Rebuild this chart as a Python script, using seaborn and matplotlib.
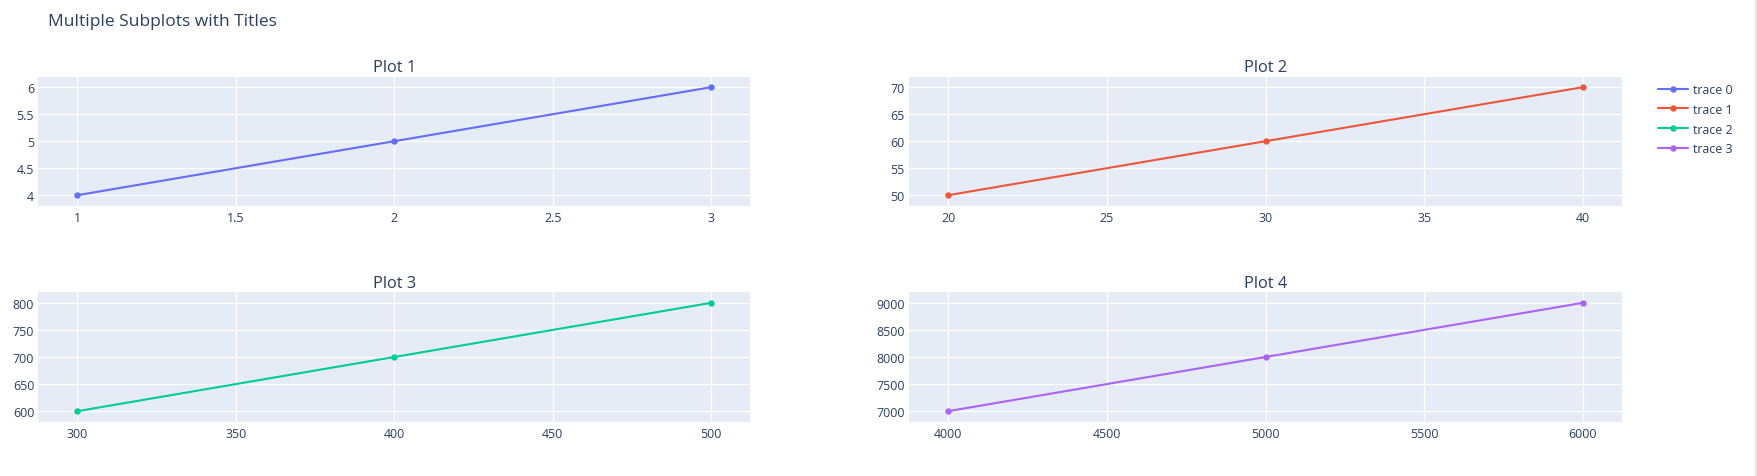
import matplotlib
matplotlib.use("Agg")
import matplotlib.pyplot as plt
import matplotlib.patches as mpatches
import seaborn as sns

# data for the four subplots
x_plot1 = [1, 2, 3]
y_plot1 = [4, 5, 6]
x_plot2 = [20, 30, 40]
y_plot2 = [50, 60, 70]
x_plot3 = [300, 400, 500]
y_plot3 = [600, 700, 800]
x_plot4 = [4000, 5000, 6000]
y_plot4 = [7000, 8000, 9000]

titles = ["Plot 1", "Plot 2", "Plot 3", "Plot 4"]
trace_names = ["trace 0", "trace 1", "trace 2", "trace 3"]
colors = ["#636efa", "#EF553B", "#00cc96", "#ab63fa"]

sns.set_theme(style="darkgrid")
plt.rcParams["font.family"] = ["Open Sans", "DejaVu Sans"]
text_color = "#2a3f5f"

W, H = 1757, 477
fig = plt.figure(figsize=(W / 100, H / 100), dpi=100)
fig.patch.set_facecolor("white")

# axes boxes in pixels: left, top, right, bottom
boxes = [
    (38.3, 77.7, 750.3, 206.7),
    (909.0, 77.7, 1622.0, 206.7),
    (38.3, 293.3, 750.3, 422.7),
    (909.0, 293.3, 1622.0, 422.7),
]

xs = [x_plot1, x_plot2, x_plot3, x_plot4]
ys = [y_plot1, y_plot2, y_plot3, y_plot4]

handles = []
for i, (l, t, r, b) in enumerate(boxes):
    ax = fig.add_axes([l / W, 1 - b / H, (r - l) / W, (b - t) / H])
    ax.set_facecolor("#E5ECF6")
    sns.lineplot(x=xs[i], y=ys[i], ax=ax, color=colors[i], marker="o",
                 markersize=4.6, markeredgewidth=0, linewidth=1.5,
                 label=trace_names[i])
    if ax.get_legend() is not None:
        ax.get_legend().remove()
    handles.append(ax.get_lines()[0])
    ax.margins(x=0.0615, y=0.097)
    ax.grid(True, color="white", linewidth=1.0)
    for s in ax.spines.values():
        s.set_visible(False)
    ax.tick_params(axis="both", length=0, labelsize=8.9, colors=text_color)
    ax.tick_params(axis="y", pad=3)
    ax.tick_params(axis="x", pad=4)
    ax.set_xlabel("")
    ax.set_ylabel("")
    ax.set_title(titles[i], fontsize=11.8, color=text_color, pad=4)
    if i == 0:
        ax.set_xticks([1, 1.5, 2, 2.5, 3])
        ax.set_xticklabels(["1", "1.5", "2", "2.5", "3"])
        ax.set_yticks([4, 4.5, 5, 5.5, 6])
        ax.set_yticklabels(["4", "4.5", "5", "5.5", "6"])
    elif i == 1:
        ax.set_xticks([20, 25, 30, 35, 40])
        ax.set_yticks([50, 55, 60, 65, 70])
    elif i == 2:
        ax.set_xticks([300, 350, 400, 450, 500])
        ax.set_yticks([600, 650, 700, 750, 800])
    else:
        ax.set_xticks([4000, 4500, 5000, 5500, 6000])
        ax.set_yticks([7000, 7500, 8000, 8500, 9000])

fig.text(48.3 / W, 1 - 22.3 / H, "Multiple Subplots with Titles",
         fontsize=12.5, color=text_color, ha="left", va="center")

fig.legend(handles=handles, labels=trace_names, loc="upper left",
           bbox_to_anchor=(1658.0 / W, 1 - 84.0 / H), frameon=False,
           fontsize=8.9, numpoints=1, handlelength=2.4, handletextpad=0.45,
           labelspacing=0.55, borderpad=0, borderaxespad=0,
           labelcolor=text_color)

# thin grey strip at the right edge
fig.patches.append(mpatches.Rectangle((1755.0 / W, 0), 2.0 / W, 1,
                                      transform=fig.transFigure,
                                      color="#e6e6e6", zorder=10))

fig.savefig("out.png", dpi=100)
